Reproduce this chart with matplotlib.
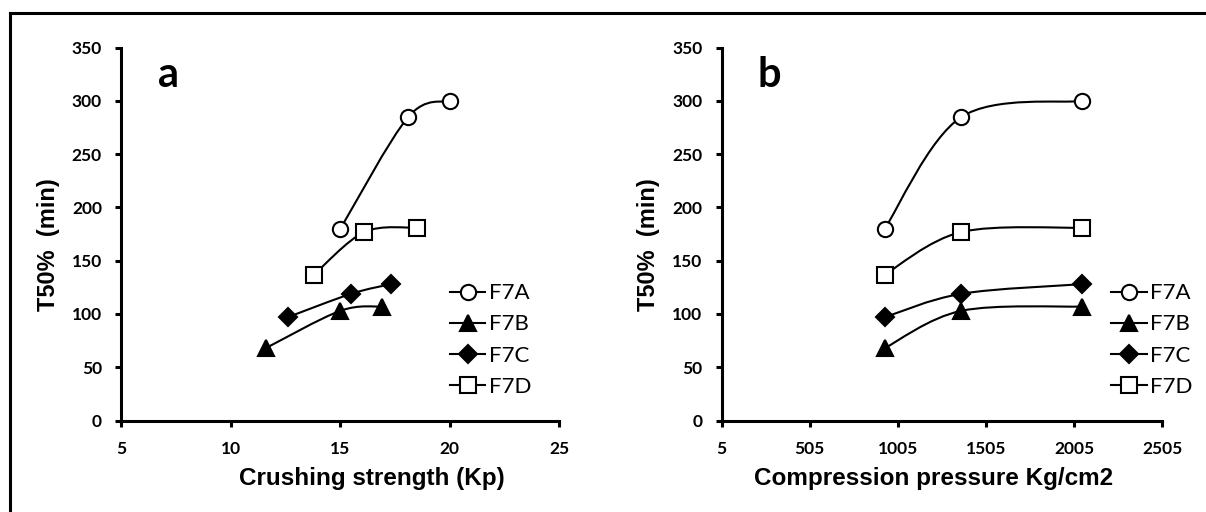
import matplotlib
matplotlib.use('Agg')
import matplotlib.pyplot as plt
from matplotlib.path import Path
from matplotlib.patches import PathPatch
from matplotlib.lines import Line2D
import numpy as np

# T50% values (min), shared by both panels
series = ['F7A', 'F7B', 'F7C', 'F7D']
t50 = {
    'F7A': [180, 285, 300],
    'F7B': [68, 103, 107],
    'F7C': [97, 119, 128],
    'F7D': [137, 177, 181],
}
# panel a: crushing strength (Kp)
crushing = {
    'F7A': [15.0, 18.1, 20.0],
    'F7B': [11.6, 15.0, 16.9],
    'F7C': [12.6, 15.5, 17.3],
    'F7D': [13.8, 16.1, 18.5],
}
# panel b: compression pressure (Kg/cm2)
pressure = [930, 1365, 2048]

markers = {'F7A': 'o', 'F7B': '^', 'F7C': 'D', 'F7D': 's'}
faces = {'F7A': 'white', 'F7B': 'black', 'F7C': 'black', 'F7D': 'white'}
msizes = {'F7A': 11, 'F7B': 11, 'F7C': 9, 'F7D': 11}

tick_font = 'Lato'
label_font = 'Liberation Sans'


def smooth_path(x, y):
    # excel-like smoothed line: cubic bezier through points
    p = np.column_stack([x, y]).astype(float)
    n = len(p)
    verts = [p[0]]
    codes = [Path.MOVETO]
    for i in range(n - 1):
        p0 = p[i - 1] if i > 0 else p[i]
        p1 = p[i]
        p2 = p[i + 1]
        p3 = p[i + 2] if i + 2 < n else p[i + 1]
        verts += [p1 + (p2 - p0) / 6, p2 - (p3 - p1) / 6, p2]
        codes += [Path.CURVE4] * 3
    return Path(verts, codes)


def draw_panel(ax, xs, xlim, xticks, xlabel, letter, label_x, leg_x):
    for s in series:
        x = xs[s]
        y = t50[s]
        ax.add_patch(PathPatch(smooth_path(x, y), fill=False, lw=1.5,
                               ec='black', zorder=2))
        ax.plot(x, y, ls='none', marker=markers[s], ms=msizes[s],
                mfc=faces[s], mec='black', mew=1.5, zorder=3)
    handles = [Line2D([], [], color='black', lw=1.5, marker=markers[s],
                      ms=msizes[s], mfc=faces[s], mec='black', mew=1.5)
               for s in series]
    ax.legend(handles, series, loc='upper left', bbox_to_anchor=(leg_x, 0.368),
              frameon=False, handlelength=1.6, handletextpad=0.15,
              labelspacing=0.5, borderpad=0, borderaxespad=0,
              prop={'family': tick_font, 'size': 16})

    ax.set_xlim(*xlim)
    ax.set_ylim(0, 350)
    ax.set_xticks(xticks)
    ax.set_yticks(range(0, 351, 50))
    for sp in ['top', 'right']:
        ax.spines[sp].set_visible(False)
    for sp in ['left', 'bottom']:
        ax.spines[sp].set_linewidth(2.2)
    ax.tick_params(direction='out', length=4, width=2.2)
    ax.tick_params(axis='y', pad=10)
    ax.tick_params(axis='x', pad=11)
    for lab in ax.get_xticklabels() + ax.get_yticklabels():
        lab.set_fontfamily(tick_font)
        lab.set_fontweight('bold')
        lab.set_fontsize(12.5)
    ax.set_xlabel(xlabel, fontfamily=label_font, fontweight='bold', fontsize=17.5)
    ax.xaxis.set_label_coords(label_x, -0.125)
    ax.set_ylabel('T50%  (min)', fontfamily=label_font, fontweight='bold',
                  fontsize=17)
    ax.yaxis.set_label_coords(-0.14, 0.471)
    ax.text(0.108, 0.895, letter, transform=ax.transAxes, ha='center',
            va='baseline', fontfamily=tick_font, fontweight='bold', fontsize=30)


fig = plt.figure(figsize=(12.06, 5.12), dpi=100)
ax1 = fig.add_axes([0.1006, 0.1787, 0.3632, 0.7281])
ax2 = fig.add_axes([0.5984, 0.1787, 0.3654, 0.7281])

draw_panel(ax1, crushing, (5, 25), [5, 10, 15, 20, 25],
           'Crushing strength (Kp)', 'a', 0.572, 0.75)
draw_panel(ax2, {s: pressure for s in series}, (5, 2505),
           [5, 505, 1005, 1505, 2005, 2505],
           'Compression pressure Kg/cm2', 'b', 0.48, 0.884)

# outer frame (only top and left edges visible in the crop)
fig.add_artist(Line2D([10 / 1206, 1.0], [1 - 13 / 512, 1 - 13 / 512],
                      color='black', lw=2.2, transform=fig.transFigure))
fig.add_artist(Line2D([10 / 1206, 10 / 1206], [0, 1 - 13 / 512],
                      color='black', lw=2.2, transform=fig.transFigure))

fig.savefig('out.png', dpi=100)
